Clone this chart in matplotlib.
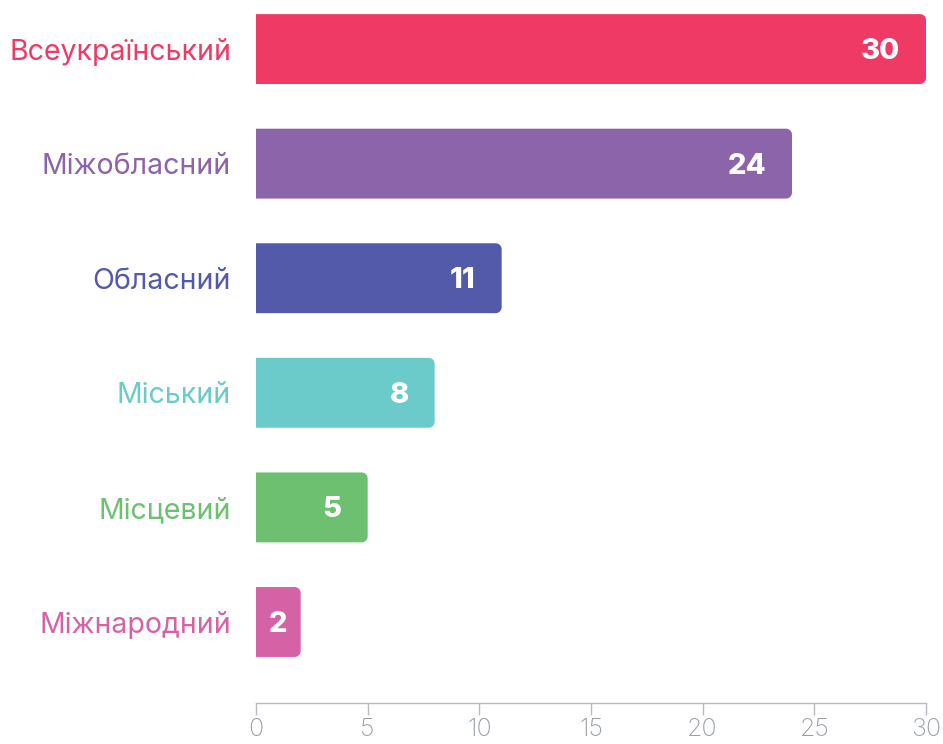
import matplotlib
matplotlib.use("Agg")
import numpy as np
import matplotlib.pyplot as plt
from matplotlib.patches import PathPatch
from matplotlib.path import Path
from matplotlib.transforms import offset_copy

# data
categories = ['Всеукраїнський', 'Міжобласний', 'Обласний', 'Міський', 'Місцевий', 'Міжнародний']
values = [30, 24, 11, 8, 5, 2]
colors = ['#EF3A66', '#8B64AA', '#525AA9', '#6BCBCB', '#6CC070', '#D662A6']
xticks = [0, 5, 10, 15, 20, 25, 30]

plt.rcParams['font.family'] = ['Inter', 'DejaVu Sans']

fig = plt.figure(figsize=(9.43, 7.44), dpi=100)
ax = fig.add_axes([256 / 943, 41 / 744, 670 / 943, 703 / 744])

pos = list(range(len(categories)))
bars = ax.barh(pos, values, height=0.61, color='none')

ax.set_xlim(0, 30)
ax.set_ylim(5.707, -0.428)

# bars with rounded right corners
rx = 6 / (670 / 30)
ry = 6 / (703 / 6.135)
t = np.linspace(0, np.pi / 2, 12)
for b, c in zip(bars, colors):
    x0, y0, w, h = b.get_x(), b.get_y(), b.get_width(), b.get_height()
    x1, y1 = x0 + w, y0 + h
    verts = [(x0, y0)]
    verts += [(x1 - rx + rx * np.sin(a), y0 + ry - ry * np.cos(a)) for a in t]
    verts += [(x1 - rx + rx * np.cos(a), y1 - ry + ry * np.sin(a)) for a in t]
    verts += [(x0, y1), (x0, y0)]
    codes = [Path.MOVETO] + [Path.LINETO] * (len(verts) - 2) + [Path.CLOSEPOLY]
    ax.add_patch(PathPatch(Path(verts, codes), fc=c, ec='none'))

# value labels inside bars
for p, v in zip(pos, values):
    if v >= 3:
        tr = offset_copy(ax.transData, fig=fig, x=-26, y=-10, units='dots')
        ax.text(v, p, str(v), transform=tr, ha='right', va='baseline',
                color='white', fontsize=21, fontweight='heavy')
    else:
        tr = offset_copy(ax.transData, fig=fig, x=0, y=-10, units='dots')
        ax.text(v / 2, p, str(v), transform=tr, ha='center', va='baseline',
                color='white', fontsize=21, fontweight='heavy')

# category labels
ax.set_yticks(pos)
ax.set_yticklabels(categories, fontsize=20.5)
for lbl, c in zip(ax.get_yticklabels(), colors):
    lbl.set_color(c)
ax.tick_params(axis='y', length=0, pad=18)

ax.set_xticks(xticks)
ax.tick_params(axis='x', length=8.5, width=1, color='#B8BCC2', labelcolor='#9AA0A8',
               labelsize=18, pad=2.5)
for lbl in ax.get_xticklabels():
    lbl.set_fontweight('light')

for s in ['top', 'right', 'left']:
    ax.spines[s].set_visible(False)
ax.spines['bottom'].set_color('#B8BCC2')
ax.spines['bottom'].set_linewidth(1)

fig.savefig('out.png', dpi=100)
